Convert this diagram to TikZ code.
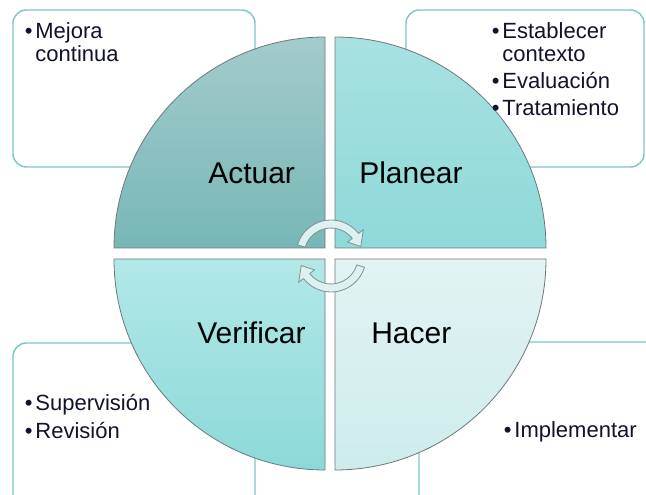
\documentclass[tikz,border=0pt]{standalone}
\usepackage{fontspec}
\setmainfont{Liberation Sans}
\usetikzlibrary{calc}

\definecolor{actuartop}{RGB}{163,203,203}
\definecolor{actuarbot}{RGB}{120,183,183}
\definecolor{planeartop}{RGB}{168,225,225}
\definecolor{planearbot}{RGB}{143,217,217}
\definecolor{verifytop}{RGB}{178,232,232}
\definecolor{verifybot}{RGB}{140,217,217}
\definecolor{hacertop}{RGB}{226,243,243}
\definecolor{hacerbot}{RGB}{206,236,236}
\definecolor{boxline}{RGB}{125,200,200}
\definecolor{arrowfill}{RGB}{222,241,241}
\definecolor{arrowline}{RGB}{125,145,145}
\definecolor{txt}{RGB}{18,18,45}

\tikzset{
	quad/.style={draw={rgb,255:red,110;green,120;blue,120}, line width=0.6pt},
	infobox/.style={draw=boxline, line width=1.1pt, rounded corners=10pt, fill=white},
	phase/.style={inner sep=0pt, anchor=base west, font=\fontsize{22.5}{27}\selectfont},
	notes/.style={inner sep=0pt, anchor=base west, text=txt, font=\fontsize{16.5}{17.25}\selectfont},
	cycarrow/.style={fill=arrowfill, draw=arrowline, line width=0.6pt},
}
\newcommand{\itm}{\makebox[8pt][l]{\textbullet}}
\newcommand{\cnt}{\hspace*{8pt}}

\begin{document}
\begin{tikzpicture}[x=0.75pt,y=0.75pt,yscale=-1,xscale=1]
		\useasboundingbox (0,0) rectangle (646,495);
		\clip (0,0) rectangle (646,495);
		
		%Shape: Rounded Rectangle [Actuar notes]
		\draw [infobox] (13,10) rectangle (255,167) ;
		%Shape: Rounded Rectangle [Planear notes]
		\draw [infobox] (406,10) rectangle (644,167) ;
		%Shape: Rounded Rectangle [Verificar notes]
		\draw [infobox] (13,343) rectangle (255,510) ;
		%Shape: Rounded Rectangle [Hacer notes]
		\draw [infobox] (419,342) rectangle (680,510) ;
		
		%Shape: Quarter Circle [Actuar]
		\draw [quad, top color=actuartop, bottom color=actuarbot] (325,248) -- (114,248) arc [start angle=180, end angle=270, radius=211] -- cycle ;
		%Shape: Quarter Circle [Planear]
		\draw [quad, top color=planeartop, bottom color=planearbot] (335,248) -- (335,37) arc [start angle=270, end angle=360, radius=211] -- cycle ;
		%Shape: Quarter Circle [Verificar]
		\draw [quad, top color=verifytop, bottom color=verifybot] (325,259) -- (325,470) arc [start angle=90, end angle=180, radius=211] -- cycle ;
		%Shape: Quarter Circle [Hacer]
		\draw [quad, top color=hacertop, bottom color=hacerbot] (335,259) -- (546,259) arc [start angle=0, end angle=90, radius=211] -- cycle ;
		
		%Circular Arrows
		\coordinate (cup) at (331,255) ;
		\coordinate (cdown) at (331,257) ;
		\draw [cycarrow] ($(cup)+(-163:35)$) arc [start angle=-163, end angle=-38, radius=35] -- ($(cup)+(-38:41)$) -- ($(cup)+(-16:31)$) -- ($(cup)+(-38:21)$) -- ($(cup)+(-38:27)$) arc [start angle=-38, end angle=-163, radius=27] -- cycle ;
		\draw [cycarrow] ($(cdown)+(17:35)$) arc [start angle=17, end angle=142, radius=35] -- ($(cdown)+(142:41)$) -- ($(cdown)+(164:31)$) -- ($(cdown)+(142:21)$) -- ($(cdown)+(142:27)$) arc [start angle=142, end angle=17, radius=27] -- cycle ;
		
		% Text Node
		\draw (208,184) node (actuar) [phase] {Actuar};
		% Text Node
		\draw (359,184) node (planear) [phase] {Planear};
		% Text Node
		\draw (197,344) node (verificar) [phase] {Verificar};
		% Text Node
		\draw (371,344) node (hacer) [phase] {Hacer};
		
		% Text Node
		\draw (24.5,39) node (mejora) [notes] {\begin{tabular}[t]{@{}l@{}}\itm Mejora\\ \cnt continua\end{tabular}};
		% Text Node
		\draw (491.5,39) node (plan) [notes] {\begin{tabular}[t]{@{}l@{}}\itm Establecer\\ \cnt contexto\\[2.6pt] \itm Evaluación\\[2.6pt] \itm Tratamiento\end{tabular}};
		% Text Node
		\draw (24.5,410) node (revision) [notes] {\begin{tabular}[t]{@{}l@{}}\itm Supervisión\\[3.8pt] \itm Revisión\end{tabular}};
		% Text Node
		\draw (503.5,437) node (implementar) [notes] {\begin{tabular}[t]{@{}l@{}}\itm Implementar\end{tabular}};
		
\end{tikzpicture}
\end{document}
